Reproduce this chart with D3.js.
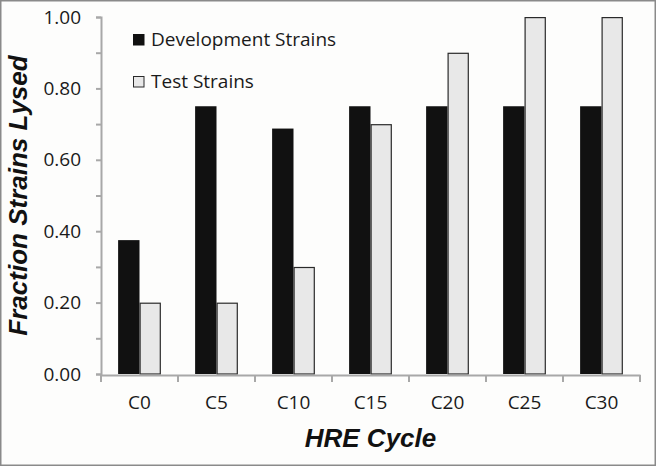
<!DOCTYPE html>
<html>
<head>
<meta charset="utf-8">
<script src="https://cdn.jsdelivr.net/npm/d3@7"></script>
<style>
  html, body { margin: 0; padding: 0; background: #fff; }
  svg { display: block; }
</style>
</head>
<body>
<svg id="chart" width="656" height="466"></svg>
<script>
const categories = ["C0", "C5", "C10", "C15", "C20", "C25", "C30"];
const seriesNames = ["Development Strains", "Test Strains"];
const developmentValues = [0.375, 0.75, 0.6875, 0.75, 0.75, 0.75, 0.75];
const testValues = [0.2, 0.2, 0.3, 0.7, 0.9, 1.0, 1.0];
const yTickValues = [0, 0.2, 0.4, 0.6, 0.8, 1.0];
const yMinorTicks = [0, 0.1, 0.2, 0.3, 0.4, 0.5, 0.6, 0.7, 0.8, 0.9, 1.0];
const xTitle = "HRE Cycle";
const yTitle = "Fraction Strains Lysed";

const seriesValues = [developmentValues, testValues];
const fills = ["#111111", "#e8e8e8"];
const strokes = ["#111111", "#2a2a2a"];

const svg = d3.select("#chart");
const W = 656, H = 466;
const m = { left: 101, right: 16, top: 17, bottom: 92 };

// background and border
svg.append("rect").attr("x", 0.75).attr("y", 0.75).attr("width", W - 1.5).attr("height", H - 1.5)
  .attr("fill", "#fdfdfc").attr("stroke", "#8a8a8a").attr("stroke-width", 1.5);

const x0 = d3.scaleBand().domain(categories).range([m.left, W - m.right]).paddingInner(0).paddingOuter(0);
const x1 = d3.scaleBand().domain(seriesNames).range([0, x0.bandwidth()]).paddingInner(0).paddingOuter(0.8);
const y = d3.scaleLinear().domain([0, 1]).range([H - m.bottom + 0, m.top]);

const font = "'Open Sans', sans-serif";
const titleFont = "'Liberation Sans', Arial, sans-serif";

// bars
const groups = svg.append("g").selectAll("g").data(categories).join("g")
  .attr("transform", d => `translate(${x0(d)},0)`);
seriesNames.forEach((s, si) => {
  groups.append("rect")
    .attr("x", (d) => x1(s) + (si === 1 ? 0.6 : 0))
    .attr("y", (d, i) => y(seriesValues[si][i]) + (si === 1 ? 0.6 : 0))
    .attr("width", x1.bandwidth() - (si === 1 ? 1.2 : 0))
    .attr("height", (d, i) => y(0) - y(seriesValues[si][i]) - (si === 1 ? 0.6 : 0))
    .attr("fill", fills[si])
    .attr("stroke", si === 1 ? strokes[si] : "none")
    .attr("stroke-width", 1.2);
});

// y axis
const yAxis = d3.axisLeft(y).tickValues(yMinorTicks).tickSize(5).tickFormat(d => {
  const r = Math.round(d * 10);
  return r % 2 === 0 ? d3.format(".2f")(d) : "";
}).tickPadding(15);
const gy = svg.append("g").attr("transform", `translate(${m.left},0)`).call(yAxis);
gy.select(".domain").attr("stroke", "#a8a8a8").attr("stroke-width", 2);
gy.selectAll(".tick line").attr("stroke", "#a8a8a8").attr("stroke-width", 2);
gy.selectAll(".tick text").attr("font-family", font).attr("font-size", 19).attr("fill", "#1a1a1a");

// x axis
const xTickAxis = d3.axisBottom(x0).tickSize(0).tickPadding(21);
const gx = svg.append("g").attr("transform", `translate(0,${y(0) + 1})`).call(xTickAxis);
gx.select(".domain").attr("stroke", "#a8a8a8").attr("stroke-width", 2.2);
gx.selectAll(".tick text").attr("font-family", font).attr("font-size", 19).attr("fill", "#1a1a1a");
// category boundary ticks
const bounds = categories.map(c => x0(c)).concat([x0.range()[1]]);
gx.selectAll(".bound").data(bounds).join("line").attr("class", "bound")
  .attr("x1", d => d).attr("x2", d => d).attr("y1", 0).attr("y2", 7)
  .attr("stroke", "#a8a8a8").attr("stroke-width", 2);

// titles
svg.append("text").attr("x", (m.left + W - m.right) / 2).attr("y", 447)
  .attr("text-anchor", "middle").attr("font-family", titleFont).attr("font-size", 26)
  .attr("font-weight", "bold").attr("font-style", "italic").attr("fill", "#111").text(xTitle);
svg.append("text").attr("transform", `translate(27,${(y(0) + y(1)) / 2}) rotate(-90)`)
  .attr("text-anchor", "middle").attr("font-family", titleFont).attr("font-size", 26)
  .attr("font-weight", "bold").attr("font-style", "italic").attr("fill", "#111").text(yTitle);

// legend
const legend = svg.append("g").selectAll("g").data(seriesNames).join("g")
  .attr("transform", (d, i) => `translate(133,${34 + i * 42})`);
legend.append("rect").attr("x", 0.5).attr("y", 0.5).attr("width", 10.5).attr("height", 10.5)
  .attr("fill", (d, i) => fills[i]).attr("stroke", (d, i) => strokes[i]).attr("stroke-width", 1);
legend.append("text").attr("x", 18).attr("y", 12).attr("font-family", font).attr("font-size", 19)
  .attr("fill", "#1a1a1a").text(d => d);
</script>
</body>
</html>
